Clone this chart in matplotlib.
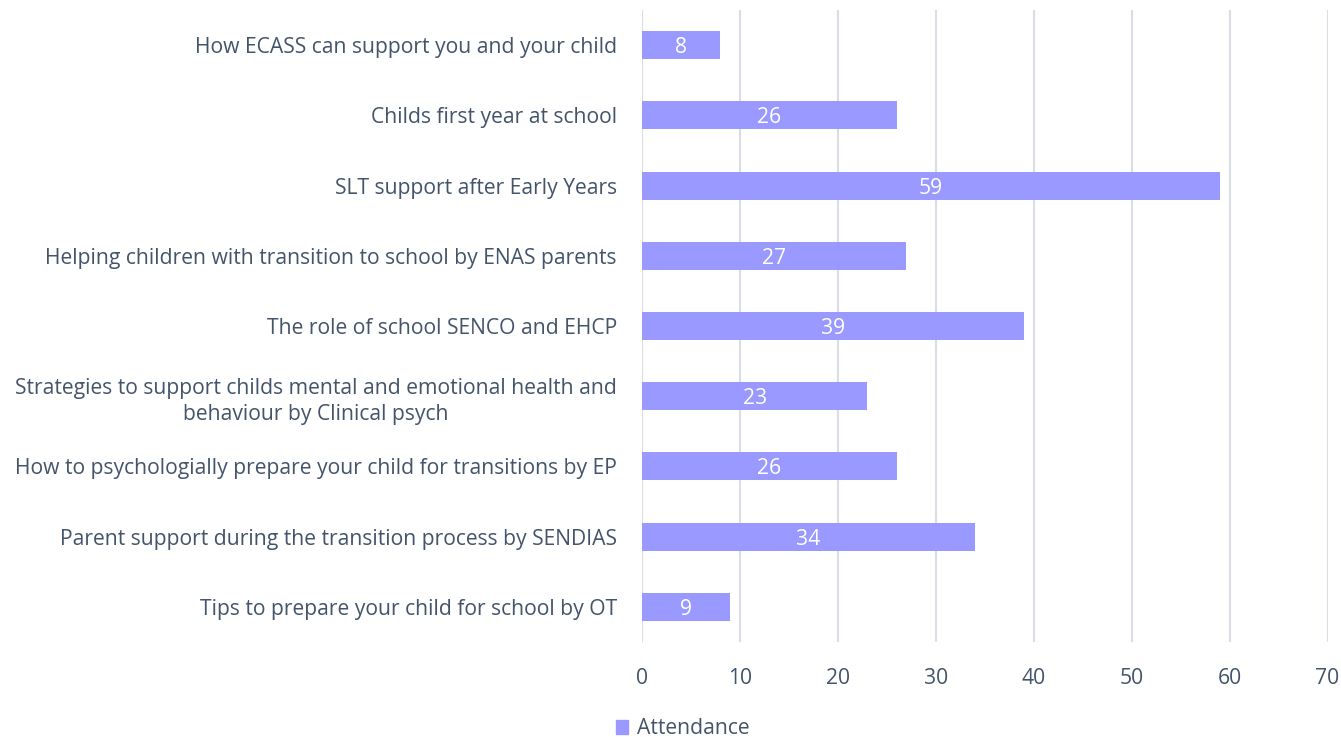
import matplotlib
matplotlib.use("Agg")
import matplotlib.pyplot as plt
from matplotlib.patches import Patch

sessions = [
    "How ECASS can support you and your child",
    "Childs first year at school",
    "SLT support after Early Years",
    "Helping children with transition to school by ENAS parents",
    "The role of school SENCO and EHCP",
    "Strategies to support childs mental and emotional health and\nbehaviour by Clinical psych",
    "How to psychologially prepare your child for transitions by EP",
    "Parent support during the transition process by SENDIAS",
    "Tips to prepare your child for school by OT",
]
attendance = [8, 26, 59, 27, 39, 23, 26, 34, 9]

BAR = "#9999FF"
TXT = "#44546A"
GRID = "#D9DDE6"
FS = 15.2

plt.rcParams["font.family"] = ["Open Sans", "DejaVu Sans"]

fig = plt.figure(figsize=(13.41, 7.37), dpi=100)
ax = fig.add_axes([0.4787, 1 - 642 / 737, 0.5113, 632 / 737])

y = list(range(len(sessions)))
bars = ax.barh(y, attendance, height=0.4, color=BAR, zorder=3)
for b, v in zip(bars, attendance):
    ax.text(b.get_width() / 2, b.get_y() + b.get_height() / 2, str(v),
            ha="center", va="center_baseline", color="white", fontsize=FS,
            zorder=4)

ax.set_xlim(0, 70)
ax.set_ylim(len(sessions) - 0.5, -0.5)
ax.set_xticks(range(0, 71, 10))
ax.set_yticks(y)
ax.set_yticklabels(sessions, multialignment="center", linespacing=1.3)
ax.tick_params(axis="both", length=0, colors=TXT, labelsize=FS)
ax.tick_params(axis="y", pad=18)
ax.tick_params(axis="x", pad=19)
ax.grid(axis="x", color=GRID, linewidth=1.5, zorder=0)
for s in ax.spines.values():
    s.set_visible(False)

fig.legend(handles=[Patch(color=BAR, label="Attendance")], loc="center",
           bbox_to_anchor=(0.509, 0.011), frameon=False, fontsize=FS,
           handlelength=0.6, handleheight=0.6, handletextpad=0.4,
           labelcolor=TXT)

fig.savefig("out.png", dpi=100)
